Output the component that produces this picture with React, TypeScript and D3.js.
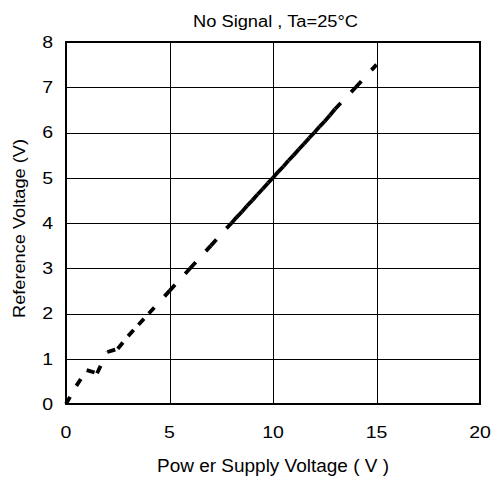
import React from "react"
import * as d3 from "d3"

// Power supply voltage (V) and reference voltage (V).
// Points are dense where the line looks solid (dash pattern restarts per segment).
const supplyV = [
  0, 0.5, 1, 1.5, 2, 2.5, 3, 3.5, 4, 5, 6, 7,
  7.75, 8, 8.25, 8.5, 8.75, 9, 9.25, 9.5, 9.75, 10, 10.25, 10.5, 10.75,
  11, 11.25, 11.5, 11.75, 12, 12.25, 12.5, 12.75, 13,
  14, 15,
]
const refV = [
  0, 0.4, 0.75, 0.68, 1.15, 1.22, 1.5, 1.75, 2.0, 2.5, 3.0, 3.5,
  3.88, 4.0, 4.13, 4.25, 4.38, 4.5, 4.63, 4.75, 4.88, 5.0, 5.13, 5.25, 5.38,
  5.5, 5.63, 5.75, 5.88, 6.0, 6.13, 6.25, 6.38, 6.52,
  7.0, 7.5,
]

const xTicks = [0, 5, 10, 15, 20]
const yTicks = [0, 1, 2, 3, 4, 5, 6, 7, 8]

const title = "No Signal , Ta=25°C"
const xTitle = "Pow er Supply Voltage ( V )"
const yTitle = "Reference Voltage (V)"

const W = 492
const H = 477
const margin = { top: 42, right: 12, bottom: 73, left: 66 }
const font = "'Liberation Sans', Arial, sans-serif"

// the original text is a bit wider than Arial at the same height
const stretch = 1.22

export default function App() {
  const x = d3
    .scaleLinear()
    .domain([0, 20])
    .range([margin.left, W - margin.right])
  const y = d3
    .scaleLinear()
    .domain([0, 8])
    .range([H - margin.bottom, margin.top])

  const points: [number, number][] = supplyV.map((v, i) => [v, refV[i]])
  const line = d3
    .line<[number, number]>()
    .x(d => x(d[0]))
    .y(d => y(d[1]))

  const segments = d3.pairs(points)

  const x0 = x(0)
  const x1 = x(20)
  const y0 = y(0)
  const y1 = y(8)

  return (
    <svg
      width={W}
      height={H}
      style={{ position: "absolute", left: 0, top: 0, background: "#fff" }}
      fontFamily={font}
    >
      <rect x={0} y={0} width={W} height={H} fill="#fff" />

      {/* grid */}
      {xTicks.slice(1, -1).map(t => (
        <line
          key={"gx" + t}
          x1={Math.round(x(t)) + 0.5}
          x2={Math.round(x(t)) + 0.5}
          y1={y1}
          y2={y0}
          stroke="#000"
          strokeWidth={1}
        />
      ))}
      {yTicks.slice(1, -1).map(t => (
        <line
          key={"gy" + t}
          x1={x0}
          x2={x1}
          y1={Math.round(y(t)) + 0.5}
          y2={Math.round(y(t)) + 0.5}
          stroke="#000"
          strokeWidth={1}
        />
      ))}

      {/* data line: dash restarts at every vertex */}
      {segments.map(([a, b], i) => (
        <path
          key={"s" + i}
          d={line([a, b]) || ""}
          fill="none"
          stroke="#000"
          strokeWidth={3.8}
          strokeDasharray="8.2,15"
        />
      ))}

      {/* frame */}
      <rect
        x={x0}
        y={y1}
        width={x1 - x0}
        height={y0 - y1}
        fill="none"
        stroke="#000"
        strokeWidth={2}
      />

      {/* tick labels */}
      {yTicks.map(t => (
        <text
          key={"ty" + t}
          transform={`translate(${x0 - 13},${y(t) + 5.8}) scale(${stretch},1)`}
          textAnchor="end"
          fontSize={16}
          fill="#000"
        >
          {t}
        </text>
      ))}
      {xTicks.map(t => (
        <text
          key={"tx" + t}
          transform={`translate(${x(t)},${y0 + 33.5}) scale(${stretch},1)`}
          textAnchor="middle"
          fontSize={16}
          fill="#000"
        >
          {t}
        </text>
      ))}

      {/* titles */}
      <text
        x={275.5}
        y={27}
        textAnchor="middle"
        fontSize={16}
        textLength={165}
        lengthAdjust="spacingAndGlyphs"
        fill="#000"
      >
        {title}
      </text>
      <text
        x={273}
        y={471.5}
        textAnchor="middle"
        fontSize={17.5}
        textLength={232}
        lengthAdjust="spacingAndGlyphs"
        fill="#000"
      >
        {xTitle}
      </text>
      <text
        transform={`translate(24.5, 228.5) rotate(-90)`}
        textAnchor="middle"
        fontSize={17}
        textLength={179}
        lengthAdjust="spacingAndGlyphs"
        fill="#000"
      >
        {yTitle}
      </text>
    </svg>
  )
}
